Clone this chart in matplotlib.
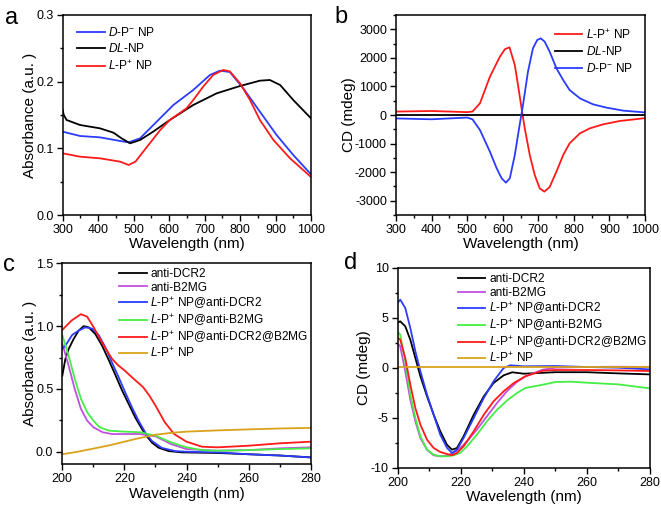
import matplotlib
matplotlib.use("Agg")
import matplotlib.pyplot as plt
from matplotlib.ticker import MultipleLocator

plt.rcParams['font.family'] = ['Liberation Sans', 'DejaVu Sans']
plt.rcParams['mathtext.fontset'] = 'custom'
plt.rcParams['mathtext.rm'] = 'Liberation Sans'
plt.rcParams['mathtext.it'] = 'Liberation Sans:italic'
plt.rcParams['axes.unicode_minus'] = False

BLACK = '#000000'
RED = '#ff1a1a'
BLUE = '#2b3cff'
GREEN = '#44ee44'
PURPLE = '#c050e0'
ORANGE = '#d9a21b'

# ---- panel a : absorbance of the NPs
wl_a_blue = [300, 349, 405, 462, 486, 518, 565, 612, 668, 715, 743, 771, 809, 856, 903, 950, 1000]
abs_blue = [0.125, 0.1185, 0.1165, 0.111, 0.109, 0.115, 0.140, 0.165, 0.1875, 0.210, 0.2165,
            0.2145, 0.190, 0.155, 0.120, 0.090, 0.061]
wl_a_black = [300, 303, 311, 349, 405, 443, 466, 490, 518, 555, 602, 668, 734, 800, 856, 884,
              913, 950, 1000]
abs_black = [0.1575, 0.150, 0.1425, 0.135, 0.130, 0.1235, 0.115, 0.1075, 0.1125, 0.125, 0.1425,
             0.165, 0.1825, 0.1935, 0.2015, 0.2025, 0.195, 0.1725, 0.145]
wl_a_red = [300, 349, 405, 462, 486, 505, 538, 575, 602, 649, 668, 696, 724, 752, 771, 800, 828,
            856, 894, 941, 1000]
abs_red = [0.0925, 0.0875, 0.085, 0.080, 0.075, 0.080, 0.1025, 0.1275, 0.1425, 0.160, 0.1725,
           0.1925, 0.210, 0.2175, 0.2155, 0.1975, 0.1725, 0.1425, 0.1125, 0.085, 0.057]

# ---- panel b : CD of the NPs
wl_b_red = [300, 400, 500, 515, 536, 564, 592, 606, 619, 634, 643, 653, 662, 676, 690, 704, 717,
            732, 751, 770, 788, 817, 845, 882, 929, 1000]
cd_red = [120, 140, 100, 120, 408, 1340, 2040, 2300, 2370, 1750, 1050, 233, -467, -1400, -2100,
          -2566, -2683, -2520, -1983, -1400, -992, -642, -467, -327, -210, -110]
wl_b_blue = [300, 400, 500, 515, 536, 564, 583, 597, 609, 620, 634, 646, 657, 671, 685, 697, 707,
             718, 732, 751, 770, 788, 817, 854, 892, 939, 1000]
cd_blue = [-120, -150, -90, -150, -525, -1283, -1866, -2216, -2368, -2216, -1400, -467, 350,
           1517, 2333, 2625, 2683, 2566, 2216, 1633, 1225, 875, 583, 373, 257, 152, 90]
wl_b_black = [300, 1000]
cd_black = [0, 0]

# ---- panel c : absorbance with antibodies
wl_c_black = [200, 201, 202.1, 203.7, 205.3, 206.9, 208.5, 210.6, 212.8, 214.9, 217.1, 219.2,
              221.4, 223.5, 225.7, 227.3, 228.9, 231, 234.3, 238.5, 250, 260, 270, 280]
abs_c_black = [0.605, 0.74, 0.82, 0.90, 0.965, 1.0, 0.99, 0.938, 0.845, 0.733, 0.611, 0.491,
               0.379, 0.272, 0.179, 0.12, 0.072, 0.032, 0.005, -0.005, -0.01, -0.02, -0.03, -0.045]
wl_c_blue = [200, 201, 203.2, 205.3, 207.4, 209.6, 211.7, 213.9, 216, 218.2, 220.3, 222.5, 224.6,
             226.8, 228.9, 232.1, 236.4, 240, 250, 260, 270, 280]
abs_c_blue = [0.82, 0.845, 0.93, 0.965, 0.99, 0.98, 0.93, 0.83, 0.71, 0.59, 0.47, 0.35, 0.245,
              0.15, 0.085, 0.03, 0.005, 0.0, -0.005, -0.02, -0.03, -0.045]
wl_c_red = [200, 203, 206, 208, 210, 213, 216, 218, 220, 223, 226, 228, 230, 233, 236, 240, 245,
            250, 260, 270, 280]
abs_c_red = [0.97, 1.045, 1.095, 1.075, 0.995, 0.86, 0.74, 0.688, 0.648, 0.58, 0.515, 0.448,
             0.368, 0.235, 0.141, 0.08, 0.04, 0.035, 0.048, 0.067, 0.08]
wl_c_green = [200, 202, 204, 206, 208, 210, 212, 215, 220, 225, 230, 235, 240, 245, 250, 260, 270, 280]
abs_c_green = [0.928, 0.768, 0.581, 0.421, 0.315, 0.248, 0.195, 0.168, 0.16, 0.155, 0.128, 0.075,
               0.035, 0.013, 0.008, 0.013, 0.021, 0.027]
wl_c_purple = [200, 202, 204, 206, 208, 210, 213, 216, 220, 225, 230, 235, 240, 250, 260, 270, 280]
abs_c_purple = [0.861, 0.688, 0.50, 0.341, 0.248, 0.195, 0.155, 0.141, 0.141, 0.141, 0.123, 0.061,
                0.021, 0.008, 0.013, 0.027, 0.035]
wl_c_orange = [200, 205, 210, 215, 220, 225, 230, 235, 240, 250, 260, 270, 280]
abs_c_orange = [-0.02, 0.0, 0.025, 0.05, 0.08, 0.11, 0.135, 0.15, 0.16, 0.17, 0.178, 0.185, 0.19]

# ---- panel d : CD with antibodies
wl_d_blue = [200, 200.8, 202.4, 204, 205.6, 207.2, 209.3, 211.4, 213.5, 215.6, 217.2, 218.8,
             220.9, 224.1, 227.3, 230.4, 233.6, 235.7, 240, 250, 260, 270, 280]
cd_d_blue = [6.5, 6.8, 5.97, 3.97, 1.64, -0.36, -2.7, -4.7, -6.7, -8.0, -8.53, -8.2, -7.03,
             -5.03, -3.03, -1.36, -0.03, 0.24, 0.14, 0.17, 0.07, 0.0, -0.17]
wl_d_black = [200, 200.8, 202.4, 204, 205.6, 207.2, 209.3, 211.4, 213.5, 215.6, 217.2, 218.8,
              220.9, 224.1, 227.3, 230.4, 233.6, 236.3, 240, 250, 260, 270, 280]
cd_d_black = [4.5, 4.64, 4.14, 2.8, 0.97, -0.86, -2.86, -4.7, -6.36, -7.7, -8.2, -8.03, -6.86,
              -4.7, -2.86, -1.53, -0.76, -0.46, -0.6, -0.45, -0.45, -0.57, -0.67]
wl_d_red = [200, 200.8, 202.4, 204, 205.6, 207.2, 209.3, 211.4, 213.5, 215.6, 217.2, 218.8, 220.9,
            224.1, 227.3, 230.4, 233.6, 236.8, 240.5, 246, 250, 260, 270, 280]
cd_d_red = [3.0, 2.8, 0.97, -1.7, -4.03, -5.7, -7.2, -8.03, -8.43, -8.63, -8.76, -8.53, -7.86,
            -6.36, -4.7, -3.36, -2.36, -1.53, -0.86, -0.3, -0.23, -0.23, -0.27, -0.33]
wl_d_green = [200, 200.8, 202.4, 204, 205.6, 207.2, 209.3, 211.4, 213.5, 215.6, 217.7, 219.8,
              222, 225.1, 228.3, 231.5, 234.6, 237.8, 240.5, 246, 250, 255, 260, 270, 280]
cd_d_green = [3.6, 3.3, 0.64, -2.7, -5.03, -6.86, -8.2, -8.7, -8.86, -8.86, -8.76, -8.53, -7.86,
              -6.7, -5.36, -4.2, -3.3, -2.53, -2.03, -1.7, -1.43, -1.4, -1.5, -1.67, -2.07]
wl_d_purple = [200, 200.8, 202.4, 204, 205.6, 207.2, 209.3, 211.4, 213.5, 215.6, 217.7, 219.8,
               222, 225.1, 228.3, 231.5, 234.6, 237.8, 240.5, 246, 250, 260, 270, 280]
cd_d_purple = [2.4, 2.14, -0.36, -3.2, -5.36, -7.03, -8.2, -8.76, -8.86, -8.8, -8.53, -8.03,
               -7.36, -6.2, -4.86, -3.53, -2.36, -1.43, -0.86, -0.2, 0.0, 0.07, 0.1, 0.07]
wl_d_orange = [200, 280]
cd_d_orange = [0.06, 0.06]

lab_D = r'$\mathit{D}$-P$^{-}$ NP'
lab_DL = r'$\mathit{DL}$-NP'
lab_L = r'$\mathit{L}$-P$^{+}$ NP'
lab_c = ['anti-DCR2', 'anti-B2MG',
         r'$\mathit{L}$-P$^{+}$ NP@anti-DCR2',
         r'$\mathit{L}$-P$^{+}$ NP@anti-B2MG',
         r'$\mathit{L}$-P$^{+}$ NP@anti-DCR2@B2MG',
         r'$\mathit{L}$-P$^{+}$ NP']

W, H = 661, 512
fig = plt.figure(figsize=(W / 100, H / 100), dpi=100)


def add_ax(x0, y0, x1, y1):
    return fig.add_axes([x0 / W, (H - y1) / H, (x1 - x0) / W, (y1 - y0) / H])


def style(ax, ylabel):
    for s in ax.spines.values():
        s.set_linewidth(1.1)
    ax.tick_params(which='both', direction='out', labelsize=9, width=1.0, top=False, right=False)
    ax.tick_params(which='major', length=4, pad=2.5)
    ax.tick_params(which='minor', length=2)
    ax.set_xlabel('Wavelength (nm)', fontsize=11, labelpad=1)
    ax.set_ylabel(ylabel, fontsize=11, labelpad=-0.5)


lw = 1.3
leg_kw = dict(frameon=False, fontsize=8.6, handlelength=2.3, handletextpad=0.3, borderaxespad=0)

# panel a
ax = add_ax(62.7, 15, 311, 215)
ax.plot(wl_a_blue, abs_blue, color=BLUE, lw=lw, label=lab_D)
ax.plot(wl_a_black, abs_black, color=BLACK, lw=lw, label=lab_DL)
ax.plot(wl_a_red, abs_red, color=RED, lw=lw, label=lab_L)
ax.set_xlim(300, 1000)
ax.set_ylim(0, 0.3)
ax.xaxis.set_major_locator(MultipleLocator(100))
ax.xaxis.set_minor_locator(MultipleLocator(50))
ax.yaxis.set_major_locator(MultipleLocator(0.1))
ax.yaxis.set_minor_locator(MultipleLocator(0.05))
style(ax, 'Absorbance (a.u. )')
ax.legend(loc='upper left', bbox_to_anchor=(0.04, 0.97), labelspacing=0.3, **leg_kw)
fig.text(5 / W, 1 - 24 / H, 'a', fontsize=17)

# panel b
ax = add_ax(396, 15, 645, 215)
ax.plot(wl_b_red, cd_red, color=RED, lw=lw, label=lab_L)
ax.plot(wl_b_black, cd_black, color=BLACK, lw=lw, label=lab_DL)
ax.plot(wl_b_blue, cd_blue, color=BLUE, lw=lw, label=lab_D)
ax.set_xlim(300, 1000)
ax.set_ylim(-3500, 3500)
ax.xaxis.set_major_locator(MultipleLocator(100))
ax.xaxis.set_minor_locator(MultipleLocator(50))
ax.yaxis.set_major_locator(MultipleLocator(1000))
ax.yaxis.set_minor_locator(MultipleLocator(500))
style(ax, 'CD (mdeg)')
ax.legend(loc='upper right', bbox_to_anchor=(0.97, 0.96), labelspacing=0.3, **leg_kw)
fig.text(334 / W, 1 - 23 / H, 'b', fontsize=17)

# panel c
ax = add_ax(62.3, 263.3, 310.7, 464.3)
ax.plot(wl_c_black, abs_c_black, color=BLACK, lw=lw, label=lab_c[0])
ax.plot(wl_c_purple, abs_c_purple, color=PURPLE, lw=lw, label=lab_c[1])
ax.plot(wl_c_blue, abs_c_blue, color=BLUE, lw=lw, label=lab_c[2])
ax.plot(wl_c_green, abs_c_green, color=GREEN, lw=lw, label=lab_c[3])
ax.plot(wl_c_red, abs_c_red, color=RED, lw=lw, label=lab_c[4])
ax.plot(wl_c_orange, abs_c_orange, color=ORANGE, lw=lw, label=lab_c[5])
ax.set_xlim(200, 280)
ax.set_ylim(-0.1, 1.5)
ax.xaxis.set_major_locator(MultipleLocator(20))
ax.xaxis.set_minor_locator(MultipleLocator(10))
ax.yaxis.set_major_locator(MultipleLocator(0.5))
ax.yaxis.set_minor_locator(MultipleLocator(0.25))
style(ax, 'Absorbance (a.u. )')
ax.legend(loc='upper left', bbox_to_anchor=(0.21, 1.0), labelspacing=0.12, **leg_kw)
fig.text(3 / W, 1 - 271 / H, 'c', fontsize=17)

# panel d
ax = add_ax(397.7, 267.7, 650, 467.7)
ax.plot(wl_d_black, cd_d_black, color=BLACK, lw=lw, label=lab_c[0])
ax.plot(wl_d_purple, cd_d_purple, color=PURPLE, lw=lw, label=lab_c[1])
ax.plot(wl_d_blue, cd_d_blue, color=BLUE, lw=lw, label=lab_c[2])
ax.plot(wl_d_green, cd_d_green, color=GREEN, lw=lw, label=lab_c[3])
ax.plot(wl_d_red, cd_d_red, color=RED, lw=lw, label=lab_c[4])
ax.plot(wl_d_orange, cd_d_orange, color=ORANGE, lw=lw, label=lab_c[5])
ax.set_xlim(200, 280)
ax.set_ylim(-10, 10)
ax.xaxis.set_major_locator(MultipleLocator(20))
ax.xaxis.set_minor_locator(MultipleLocator(10))
ax.yaxis.set_major_locator(MultipleLocator(5))
ax.yaxis.set_minor_locator(MultipleLocator(2.5))
style(ax, 'CD (mdeg)')
ax.legend(loc='upper left', bbox_to_anchor=(0.22, 0.995), labelspacing=0.12, **leg_kw)
fig.text(344 / W, 1 - 269 / H, 'd', fontsize=17)

fig.savefig('out.png', dpi=100)
